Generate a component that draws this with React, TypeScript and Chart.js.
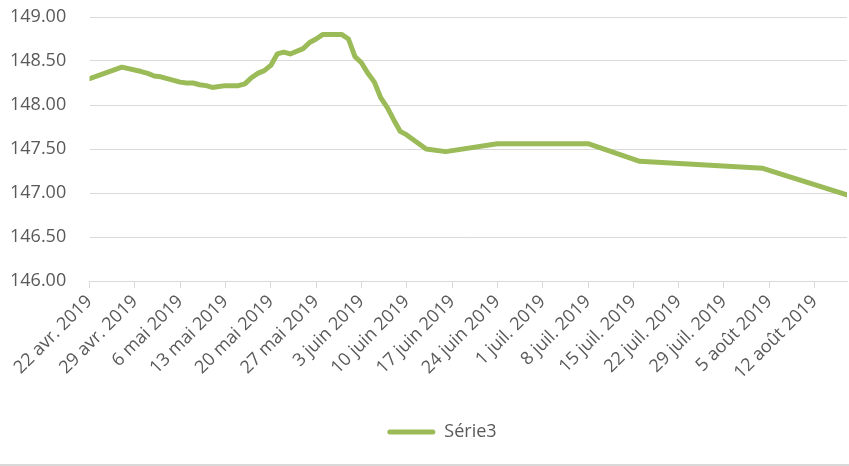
import React, { useEffect, useRef } from "react";
import { Chart, registerables } from "chart.js";

Chart.register(...registerables);

const startDate = "2019-04-22";
const dates = [
  "2019-04-22", "2019-04-27", "2019-04-30", "2019-05-01", "2019-05-02", "2019-05-03",
  "2019-05-05", "2019-05-06", "2019-05-07", "2019-05-08", "2019-05-09", "2019-05-10",
  "2019-05-11", "2019-05-12", "2019-05-13", "2019-05-15", "2019-05-16", "2019-05-17",
  "2019-05-18", "2019-05-19", "2019-05-20", "2019-05-21", "2019-05-22", "2019-05-23",
  "2019-05-25", "2019-05-26", "2019-05-27", "2019-05-28", "2019-05-31", "2019-06-01",
  "2019-06-02", "2019-06-03", "2019-06-04", "2019-06-05", "2019-06-06", "2019-06-07",
  "2019-06-08", "2019-06-09", "2019-06-10", "2019-06-13", "2019-06-16", "2019-06-24",
  "2019-07-08", "2019-07-16", "2019-08-04", "2019-08-17",
];
const serie3 = [
  148.30, 148.43, 148.38, 148.36, 148.33, 148.32,
  148.28, 148.26, 148.25, 148.25, 148.23, 148.22,
  148.20, 148.21, 148.22, 148.22, 148.24, 148.31,
  148.36, 148.39, 148.45, 148.58, 148.60, 148.58,
  148.64, 148.71, 148.75, 148.80, 148.80, 148.75,
  148.55, 148.48, 148.36, 148.26, 148.08, 147.97,
  147.83, 147.70, 147.66, 147.50, 147.47, 147.56,
  147.56, 147.36, 147.28, 146.98,
];
const xTickLabels = [
  "22 avr. 2019", "29 avr. 2019", "6 mai 2019", "13 mai 2019", "20 mai 2019",
  "27 mai 2019", "3 juin 2019", "10 juin 2019", "17 juin 2019", "24 juin 2019",
  "1 juil. 2019", "8 juil. 2019", "15 juil. 2019", "22 juil. 2019", "29 juil. 2019",
  "5 août 2019", "12 août 2019",
];
const seriesName = "Série3";
const yMin = 146;
const yMax = 149;
const yStep = 0.5;
const xEndDate = "2019-08-17";

const DAY = 86400000;
const dayOffset = (d: string) =>
  Math.round((Date.parse(d + "T00:00:00Z") - Date.parse(startDate + "T00:00:00Z")) / DAY);

const legendShift = {
  id: "legendShift",
  afterLayout(chart: any) {
    if (chart.legend) {
      chart.legend.left += 27;
    }
  },
};

export default function App() {
  const ref = useRef<HTMLCanvasElement>(null);
  useEffect(() => {
    document.body.style.margin = "0";
    const color = "#9BBB59";
    const text = "#595959";
    const grid = "#d9d9d9";
    const font = { family: "'Open Sans', sans-serif", size: 18 };
    const chart = new Chart(ref.current!, {
      type: "line",
      data: {
        datasets: [
          {
            label: seriesName,
            data: dates.map((d, i) => ({ x: dayOffset(d), y: serie3[i] })),
            borderColor: color,
            backgroundColor: color,
            borderWidth: 5,
            pointRadius: 0,
            tension: 0,
            borderJoinStyle: "round",
            borderCapStyle: "round",
          },
        ],
      },
      plugins: [legendShift],
      options: {
        animation: false,
        responsive: false,
        devicePixelRatio: 1,
        layout: { padding: { left: 10, right: 2, top: 17, bottom: 13 } },
        plugins: {
          tooltip: { enabled: false },
          legend: {
            position: "bottom",
            labels: {
              color: text,
              font,
              boxWidth: 48,
              boxHeight: 5,
              useBorderRadius: true,
              borderRadius: 2.5,
              generateLabels: () => [
                {
                  text: seriesName,
                  fillStyle: color,
                  strokeStyle: color,
                  lineWidth: 0,
                  hidden: false,
                  datasetIndex: 0,
                  borderRadius: 2.5,
                  fontColor: text,
                } as any,
              ],
            },
          },
        },
        scales: {
          x: {
            type: "linear",
            min: 0,
            max: dayOffset(xEndDate),
            afterFit: (s: any) => {
              s.height = 132;
            },
            ticks: {
              stepSize: 7,
              includeBounds: false,
              autoSkip: false,
              maxRotation: 45,
              minRotation: 45,
              padding: 3,
              color: text,
              font,
              callback: (_v: any, i: number) => xTickLabels[i],
            },
            grid: {
              display: true,
              drawOnChartArea: false,
              drawTicks: true,
              tickLength: 7,
              color: grid,
              lineWidth: 1,
            },
            border: { display: true, color: grid, width: 1 },
          },
          y: {
            min: yMin,
            max: yMax,
            afterFit: (s: any) => {
              s.width = 79.5;
            },
            ticks: {
              stepSize: yStep,
              padding: 0,
              crossAlign: "far",
              color: text,
              font,
              callback: (v: any) => Number(v).toFixed(2),
            },
            grid: { color: grid, lineWidth: 1, drawTicks: false },
            border: { display: false },
          },
        },
      },
    });
    return () => chart.destroy();
  }, []);
  return (
    <div
      style={{
        width: 849,
        height: 466,
        boxSizing: "border-box",
        borderBottom: "2px solid #d9d9d9",
        background: "#fff",
      }}
    >
      <canvas ref={ref} width={849} height={464} style={{ display: "block" }} />
    </div>
  );
}
